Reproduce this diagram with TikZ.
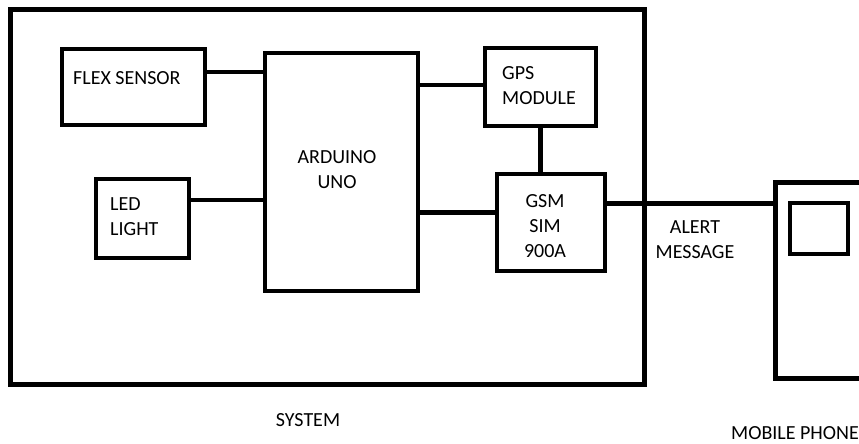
\documentclass[tikz,border=0pt]{standalone}
\usepackage{fontspec}
\setmainfont{Carlito}
\tikzset{
	blk/.style={draw, line width=4.5pt, inner sep=0pt},
	wire/.style={line width=4.5pt},
	lbl/.style={inner sep=0pt, font=\fontsize{20}{25}\selectfont},
}
\begin{document}
\begin{tikzpicture}[x=1pt, y=-1pt]
	\useasboundingbox (0,0) rectangle (859,444);
	\clip (0,0) rectangle (859,444);
	
	% system frame
	\node[blk, line width=5pt, minimum width=633.5, minimum height=374.5] (sys) at (327.25,196.75) {};
	
	% blocks
	\node[blk, minimum width=143, minimum height=76] (flex) at (133.5,87) {};
	\node[blk, minimum width=93, minimum height=79] (led) at (142.5,218.5) {};
	\node[blk, line width=4pt, minimum width=153, minimum height=238] (ardu) at (341.5,172) {};
	\node[blk, minimum width=111, minimum height=78] (gps) at (540.5,87) {};
	\node[blk, minimum width=108, minimum height=97] (gsm) at (551,222.5) {};
	\node[blk, line width=5pt, minimum width=150, minimum height=196] (phone) at (850,280) {};
	\node[blk, minimum width=58, minimum height=51] (screen) at (819,228.5) {};
	
	% texts
	\node[lbl, anchor=west] (flextxt) at (73,78) {FLEX SENSOR};
	\node[lbl, anchor=west, align=left] (ledtxt) at (110,217) {LED\\LIGHT};
	\node[lbl, align=center] (ardutxt) at (337,170) {ARDUINO\\UNO};
	\node[lbl, anchor=west, align=left] (gpstxt) at (502,86) {GPS\\MODULE};
	\node[lbl, align=center] (gsmtxt) at (545,226) {GSM\\SIM\\900A};
	\node[lbl, align=center] (alerttxt) at (695,240) {ALERT\\MESSAGE};
	\node[lbl] (systxt) at (308,420) {SYSTEM};
	\node[lbl, anchor=west] (phonetxt) at (731,433) {MOBILE PHONE};
	
	% connections
	\draw[wire] (flex.east |- 0,72) -- (ardu.west |- 0,72);
	\draw[wire] (led.east |- 0,200) -- (ardu.west |- 0,200);
	\draw[wire, line width=4pt] (ardu.east |- 0,85) -- (gps.west |- 0,85);
	\draw[wire] (gps.south) -- (gps.south |- gsm.north);
	\draw[wire, line width=5pt] (ardu.east |- 0,212) -- (gsm.west |- 0,212);
	\draw[wire, line width=5pt] (gsm.east |- 0,203.5) -- (phone.west |- 0,203.5);
\end{tikzpicture}
\end{document}
